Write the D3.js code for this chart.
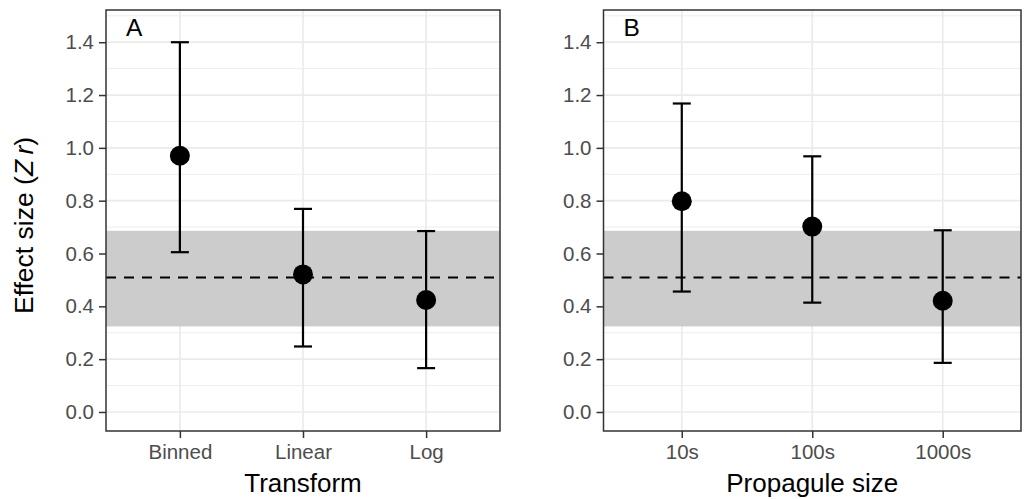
<!DOCTYPE html>
<html>
<head>
<meta charset="utf-8">
<script src="https://cdn.jsdelivr.net/npm/d3@7"></script>
<style>
  body { margin: 0; background: #fff; }
  svg { display: block; font-family: "Liberation Sans", Arial, sans-serif; }
</style>
</head>
<body>
<div id="chart"></div>
<script>
// panel A
const transformCats = ["Binned", "Linear", "Log"];
const transformMean = [0.970, 0.521, 0.424];
const transformLow = [0.605, 0.248, 0.166];
const transformHigh = [1.400, 0.769, 0.685];

// panel B
const propaguleCats = ["10s", "100s", "1000s"];
const propaguleMean = [0.798, 0.702, 0.421];
const propaguleLow = [0.456, 0.414, 0.186];
const propaguleHigh = [1.168, 0.968, 0.688];

// overall mean and its CI (grey band + dashed line)
const overallMean = 0.509;
const overallBand = [0.324, 0.686];

const yTicks = [0, 0.2, 0.4, 0.6, 0.8, 1.0, 1.2, 1.4];
const yMinor = [0.1, 0.3, 0.5, 0.7, 0.9, 1.1, 1.3, 1.5];

const W = 1028, H = 499;
const svg = d3.select("#chart").append("svg").attr("width", W).attr("height", H);

const y = d3.scaleLinear().domain([-0.072, 1.522]).range([431, 10]);

function drawPanel(opts) {
  const { left, right, cats, mean, low, high, label, title, yTitle } = opts;
  const g = svg.append("g");
  // discrete axis with 0.6 step expansion each side, like ggplot
  const step = (right - left) / (cats.length - 1 + 1.2);
  const x = d3.scalePoint().domain(cats).range([left + step * 0.6, right - step * 0.6]);

  const data = cats.map((c, i) => ({ cat: c, mean: mean[i], low: low[i], high: high[i] }));

  // grid
  g.selectAll(".minor").data(yMinor.filter(v => y(v) > 10)).enter().append("line")
    .attr("x1", left).attr("x2", right)
    .attr("y1", d => y(d)).attr("y2", d => y(d))
    .attr("stroke", "#ebebeb").attr("stroke-width", 0.9);
  g.selectAll(".major").data(yTicks).enter().append("line")
    .attr("x1", left).attr("x2", right)
    .attr("y1", d => y(d)).attr("y2", d => y(d))
    .attr("stroke", "#ebebeb").attr("stroke-width", 1.7);
  g.selectAll(".vmajor").data(cats).enter().append("line")
    .attr("x1", d => x(d)).attr("x2", d => x(d))
    .attr("y1", 10).attr("y2", 431)
    .attr("stroke", "#ebebeb").attr("stroke-width", 1.7);

  // band + mean
  g.append("rect")
    .attr("x", left).attr("width", right - left)
    .attr("y", y(overallBand[1])).attr("height", y(overallBand[0]) - y(overallBand[1]))
    .attr("fill", "#cccccc");
  g.append("line")
    .attr("x1", left).attr("x2", right)
    .attr("y1", y(overallMean)).attr("y2", y(overallMean))
    .attr("stroke", "#000").attr("stroke-width", 2).attr("stroke-dasharray", "10,8");

  // error bars
  const eb = g.selectAll(".eb").data(data).enter().append("g");
  eb.append("line")
    .attr("x1", d => x(d.cat)).attr("x2", d => x(d.cat))
    .attr("y1", d => y(d.low)).attr("y2", d => y(d.high))
    .attr("stroke", "#000").attr("stroke-width", 2.2);
  eb.append("line")
    .attr("x1", d => x(d.cat) - 9).attr("x2", d => x(d.cat) + 9)
    .attr("y1", d => y(d.low)).attr("y2", d => y(d.low))
    .attr("stroke", "#000").attr("stroke-width", 2.2);
  eb.append("line")
    .attr("x1", d => x(d.cat) - 9).attr("x2", d => x(d.cat) + 9)
    .attr("y1", d => y(d.high)).attr("y2", d => y(d.high))
    .attr("stroke", "#000").attr("stroke-width", 2.2);
  eb.append("circle")
    .attr("cx", d => x(d.cat)).attr("cy", d => y(d.mean)).attr("r", 10)
    .attr("fill", "#000");

  // border
  g.append("rect")
    .attr("x", left).attr("y", 10).attr("width", right - left).attr("height", 421)
    .attr("fill", "none").attr("stroke", "#333333").attr("stroke-width", 1.5);

  // axes
  const ya = g.append("g").attr("transform", `translate(${left},0)`)
    .call(d3.axisLeft(y).tickValues(yTicks).tickFormat(d3.format(".1f")).tickSize(7).tickPadding(5));
  ya.select(".domain").remove();
  ya.selectAll("line").attr("stroke", "#333333").attr("stroke-width", 1.5);
  ya.selectAll("text").attr("fill", "#4d4d4d").style("font-size", "20.5px")
    .style("font-family", "Liberation Sans, Arial, sans-serif");

  const xa = g.append("g").attr("transform", `translate(0,431)`)
    .call(d3.axisBottom(x).tickSize(7).tickPadding(6));
  xa.select(".domain").remove();
  xa.selectAll("line").attr("stroke", "#333333").attr("stroke-width", 1.5);
  xa.selectAll("text").attr("fill", "#4d4d4d").style("font-size", "20.5px")
    .style("font-family", "Liberation Sans, Arial, sans-serif");

  // panel label
  g.append("text").attr("x", left + 20).attr("y", 36)
    .style("font-size", "24.5px").attr("fill", "#000").text(label);

  // x title
  g.append("text").attr("x", (left + right) / 2).attr("y", 492)
    .attr("text-anchor", "middle").style("font-size", "26px").attr("fill", "#000").text(title);

  if (yTitle) {
    const t = g.append("text")
      .attr("transform", `translate(33,${(10 + 431) / 2 + 5}) rotate(-90)`)
      .attr("text-anchor", "middle").style("font-size", "26.5px").attr("fill", "#000");
    t.append("tspan").text("Effect size (");
    t.append("tspan").style("font-style", "italic").text("Z\u2009r");
    t.append("tspan").text(")");
  }
}

drawPanel({ left: 106, right: 500, cats: transformCats, mean: transformMean, low: transformLow,
  high: transformHigh, label: "A", title: "Transform", yTitle: true });
drawPanel({ left: 603.5, right: 1021, cats: propaguleCats, mean: propaguleMean, low: propaguleLow,
  high: propaguleHigh, label: "B", title: "Propagule size", yTitle: false });
</script>
</body>
</html>
